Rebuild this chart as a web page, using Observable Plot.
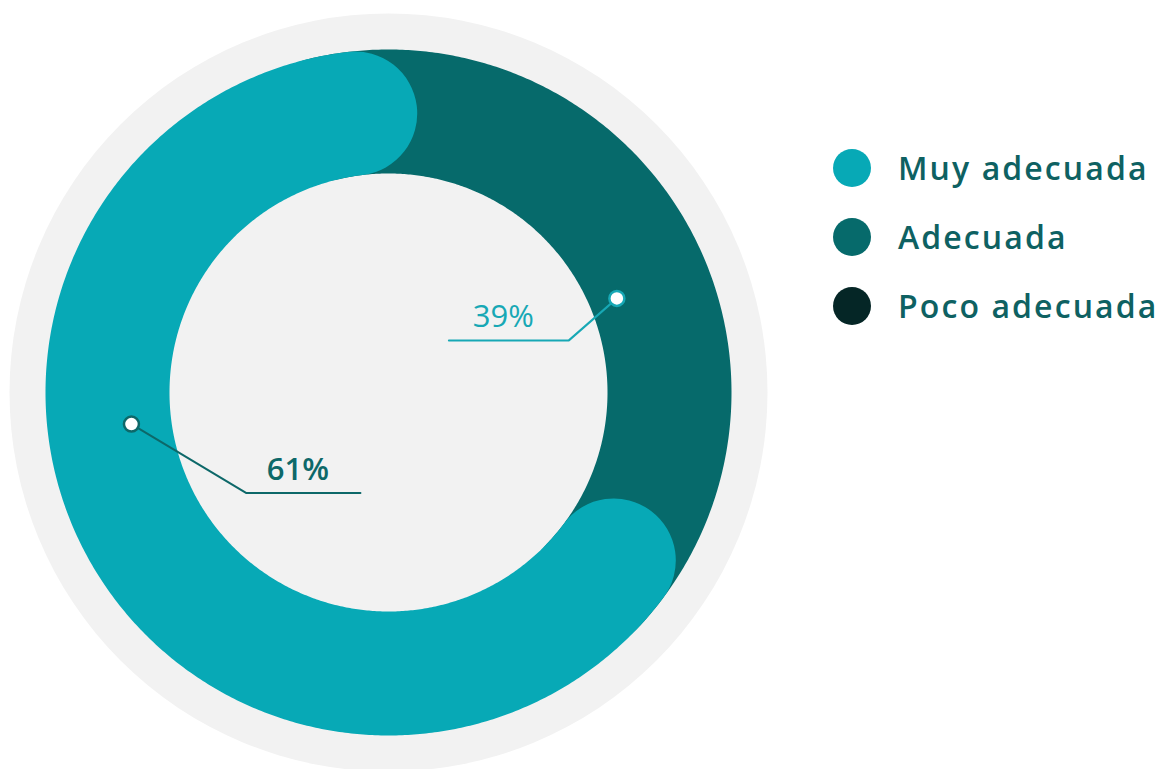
<!DOCTYPE html>
<html>
<head>
<meta charset="utf-8">
<script src="https://cdn.jsdelivr.net/npm/d3@7"></script>
<script src="https://cdn.jsdelivr.net/npm/@observablehq/plot@0.6"></script>
<style>
  html, body { margin: 0; padding: 0; background: #ffffff; }
  #wrap { position: relative; width: 1172px; height: 769px; overflow: hidden; font-family: "Open Sans", Lato, "Noto Sans", sans-serif; }
  #chart { position: absolute; left: 0; top: 0; }
  #legend { position: absolute; left: 833px; top: 0; }
  .item { position: absolute; left: 0; height: 40px; display: flex; align-items: center; white-space: nowrap; transform: translateY(-50%); }
  .sw { width: 38px; height: 38px; border-radius: 50%; flex: none; }
  .lab { margin-left: 27px; font-size: 32px; font-weight: 600; letter-spacing: 2.1px; color: #0E6162; line-height: 40px; }
</style>
</head>
<body>
<div id="wrap">
  <div id="chart"></div>
  <div id="legend"></div>
</div>
<script>
// ---------------- data ----------------
const categories = ["Muy adecuada", "Adecuada", "Poco adecuada"];
const percents   = [61, 39, 0];
const valueLabels = ["61%", "39%", "0%"];

// ---------------- styles ----------------
const colors   = ["#07A9B6", "#066A6B", "#052626"];
const labelInk = ["#0D6869", "#17A8B5", "#052626"];
const labelWeight = [600, 400, 400];
const FONT = '"Open Sans", Lato, "Noto Sans", sans-serif';
const BG = "#F2F2F2";

// geometry (pixels; x/y scales are 1 unit per px, origin at ring centre)
const W = 780, H = 769, CX = 388, CY = 392;
const discR = 379, rInner = 219, rOuter = 343;
const rMid = (rInner + rOuter) / 2, band = rOuter - rInner;
const rotate = -10.25, pad = 3.45;           // visual rotation and cap padding (deg)
// label placement: angle shift from slice middle, radius of marker, elbow offset, run
const labelLayout = [
  {shift: 12.8, r: 259, elbow: [115, 69], run: 114},
  {shift: -2.6, r: 247, elbow: [-48, 42], run: -120},
  null
];

// ---------------- derived slices (counter-clockwise from 12 o'clock) -------
const total = d3.sum(percents);
let acc = 0;
const slices = categories.map((c, i) => {
  const a0 = -acc / total * 360;
  acc += percents[i];
  const a1 = -acc / total * 360;
  return {key: c, i, a0, a1, value: percents[i]};
});

const rad = (deg) => deg * Math.PI / 180;
const polar = (deg, r) => ({x: r * Math.sin(rad(deg)), y: r * Math.cos(rad(deg))});
function arcPoints(s) {
  const b0 = s.a0 + rotate + pad, b1 = s.a1 + rotate - pad;
  const n = Math.max(2, Math.ceil(Math.abs(b1 - b0) / 0.5) + 1);
  return d3.range(n).map(k => ({key: s.key, ...polar(b0 + (b1 - b0) * k / (n - 1), rMid)}));
}

const marks = [];
// background disc
marks.push(Plot.dot([{x: 0, y: 0}], {x: "x", y: "y", r: discR, fill: BG}));
// ring slices: draw last category first so the first lies on top
slices.filter(s => s.value > 0).slice().reverse().forEach(s => {
  marks.push(Plot.line(arcPoints(s), {
    x: "x", y: "y", stroke: colors[s.i], strokeWidth: band,
    strokeLinecap: "round", strokeLinejoin: "round", curve: "linear"
  }));
});
// leader lines, markers, value labels
slices.forEach(s => {
  const L = labelLayout[s.i];
  if (!L || s.value <= 0) return;
  const mid = (s.a0 + s.a1) / 2 + L.shift;
  const m = polar(mid, L.r);
  const e = {x: m.x + L.elbow[0], y: m.y - L.elbow[1]};
  const t = {x: e.x + L.run, y: e.y};
  const ink = labelInk[s.i];
  marks.push(Plot.line([m, e, t], {x: "x", y: "y", stroke: ink, strokeWidth: 2, strokeLinejoin: "miter"}));
  marks.push(Plot.dot([m], {x: "x", y: "y", r: 7.5, fill: "#ffffff", stroke: ink, strokeWidth: 2.5}));
  marks.push(Plot.text([{x: (e.x + t.x) / 2, y: e.y, label: valueLabels[s.i]}], {
    x: "x", y: "y", text: "label", fill: ink, fontSize: 31, fontWeight: labelWeight[s.i],
    fontFamily: FONT, lineAnchor: "bottom", dx: -5.5, dy: -13
  }));
});

const chart = Plot.plot({
  width: W, height: H, margin: 0,
  x: {domain: [-CX, W - CX], axis: null},
  y: {domain: [CY - H, CY], axis: null},
  style: {background: "transparent", fontFamily: FONT, overflow: "visible"},
  marks
});
document.getElementById("chart").appendChild(chart);

// ---------------- legend ----------------
const legend = document.getElementById("legend");
const rowY = [168, 237, 306];
categories.forEach((c, i) => {
  const it = document.createElement("div");
  it.className = "item";
  it.style.top = rowY[i] + "px";
  const sw = document.createElement("span");
  sw.className = "sw";
  sw.style.background = colors[i];
  const lb = document.createElement("span");
  lb.className = "lab";
  lb.textContent = c;
  it.appendChild(sw);
  it.appendChild(lb);
  legend.appendChild(it);
});
</script>
</body>
</html>
